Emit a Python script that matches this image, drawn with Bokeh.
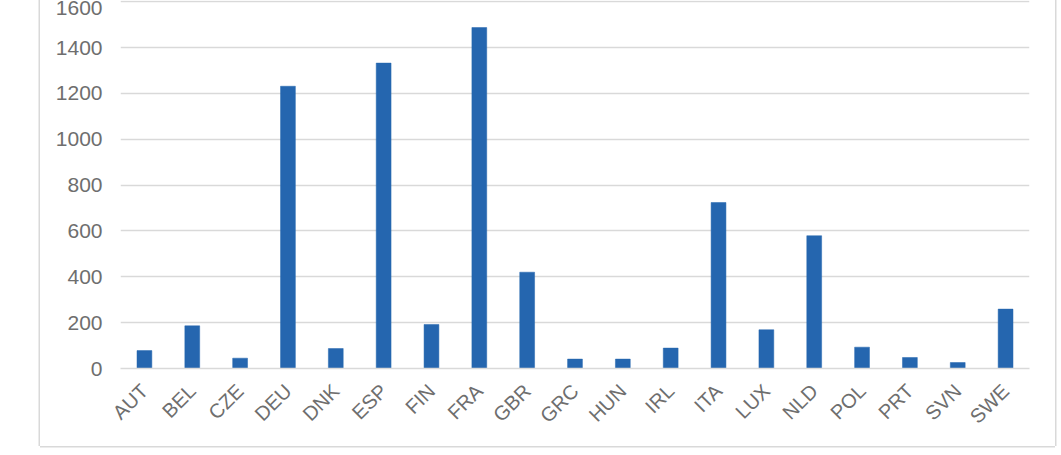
from bokeh.plotting import figure
from bokeh.models import ColumnDataSource, FactorRange, Range1d, FixedTicker
from bokeh.embed import file_html
from bokeh.resources import INLINE
import math

countries = ["AUT", "BEL", "CZE", "DEU", "DNK", "ESP", "FIN", "FRA", "GBR", "GRC",
             "HUN", "IRL", "ITA", "LUX", "NLD", "POL", "PRT", "SVN", "SWE"]
values = [78, 186, 45, 1231, 87, 1332, 192, 1487, 420, 41,
          41, 89, 724, 169, 579, 93, 48, 26, 259]
y_ticks = [0, 200, 400, 600, 800, 1000, 1200, 1400, 1600]

BAR = "#2566AF"
GRID = "#D9D9D9"
TEXT = "#6E6E6E"

src = ColumnDataSource(data=dict(x=countries, top=values))

p = figure(width=1015, height=446, output_backend="svg", toolbar_location=None,
           x_range=FactorRange(factors=countries, range_padding=0),
           y_range=Range1d(0, 1605),
           min_border_left=80, min_border_right=26, min_border_top=0, min_border_bottom=78,
           styles={"margin-left": "40px",
                   "box-shadow": "0 1.5px 0 0 #D9D9D9, -1.5px 0 0 0 #D9D9D9, 1.5px 0 0 0 #D9D9D9"})

p.vbar(x="x", top="top", width=0.31, source=src, fill_color=BAR, line_color=BAR, line_width=0.5)

p.outline_line_color = None
p.xgrid.grid_line_color = None
p.ygrid.grid_line_color = GRID
p.ygrid.grid_line_width = 1.5
p.yaxis.ticker = FixedTicker(ticks=y_ticks)

p.yaxis.axis_line_color = None
p.yaxis.major_tick_line_color = None
p.yaxis.minor_tick_line_color = None
p.yaxis.major_tick_out = 0
p.yaxis.major_label_standoff = 18
p.yaxis.major_label_text_font = "Liberation Sans"
p.yaxis.major_label_text_font_size = "21px"
p.yaxis.major_label_text_color = TEXT

p.xaxis.axis_line_color = GRID
p.xaxis.axis_line_width = 1.5
p.xaxis.major_tick_line_color = None
p.xaxis.major_tick_out = 0
p.xaxis.major_label_orientation = math.pi / 4
p.xaxis.major_label_standoff = 19
p.xaxis.major_label_text_font = "Liberation Sans"
p.xaxis.major_label_text_font_size = "20px"
p.xaxis.major_label_text_color = TEXT

open("out.html", "w").write(file_html(p, INLINE))
